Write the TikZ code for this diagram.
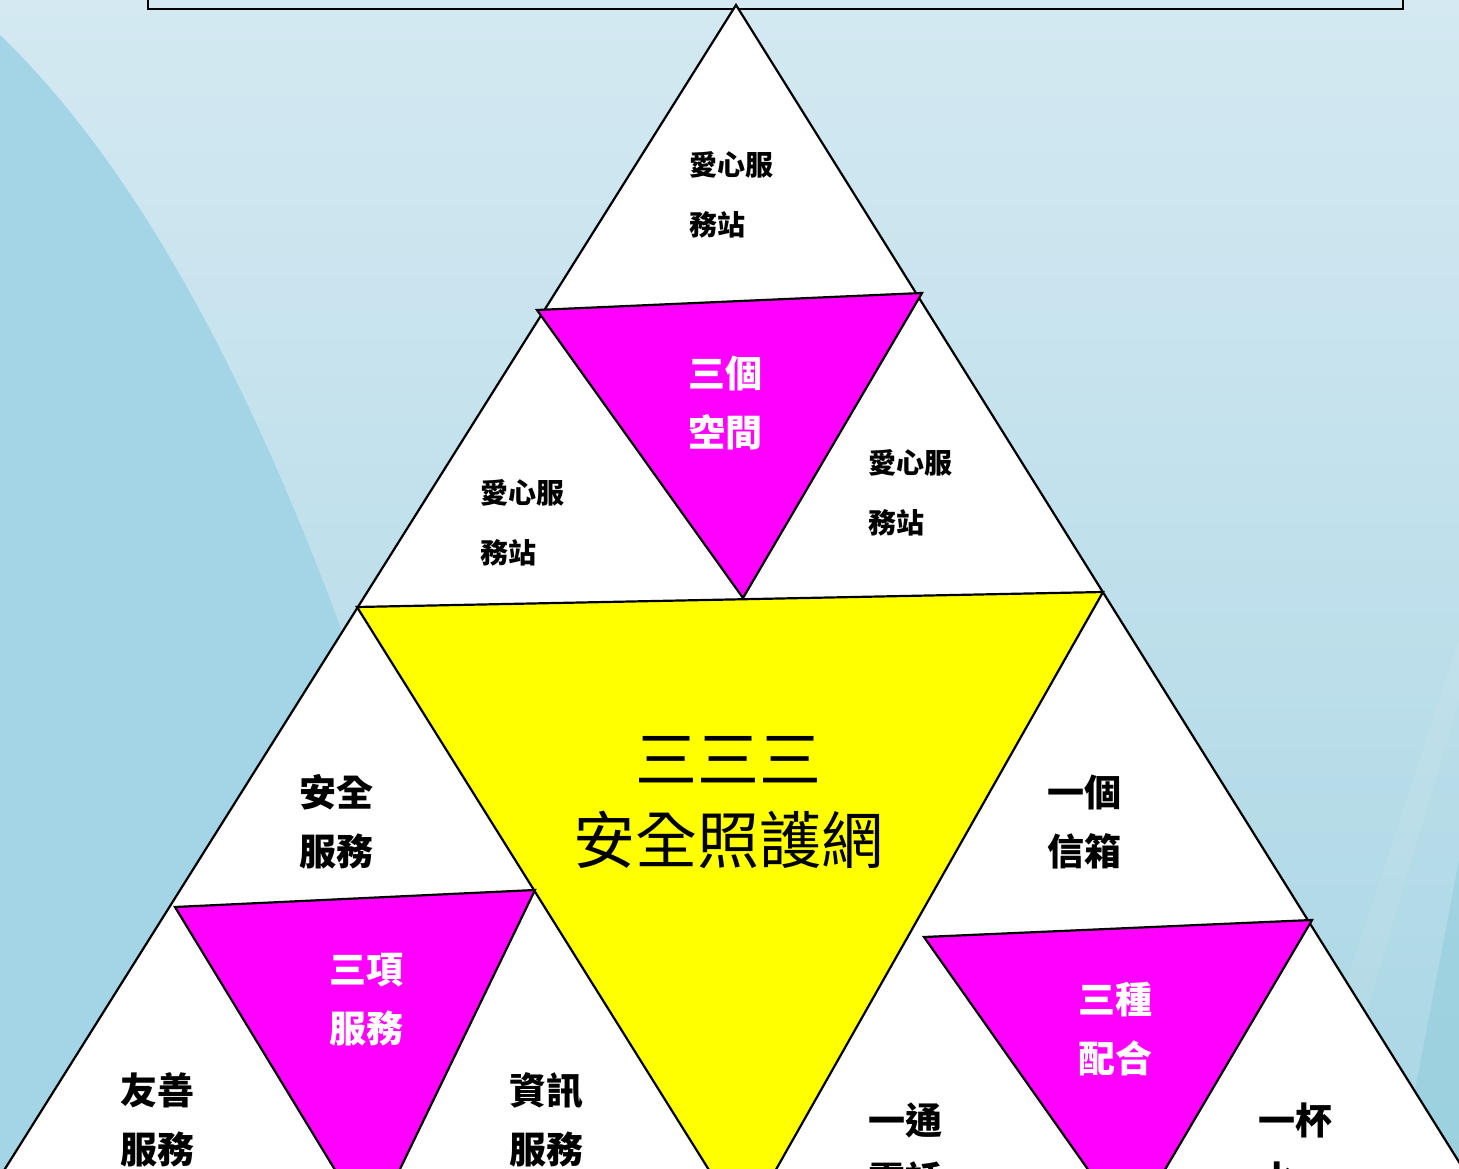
\documentclass[tikz,border=0pt]{standalone}
\usepackage{fontspec}
\newfontfamily\cjk{Noto Sans CJK TC}
\definecolor{bgtop}{HTML}{D4E9F2}
\definecolor{bgbot}{HTML}{A9D6E4}
\definecolor{swoosh}{HTML}{A4D5E6}
\definecolor{sharp}{HTML}{8FCCDC}
\definecolor{mag}{HTML}{FF00FF}
\definecolor{yel}{HTML}{FFFF00}
\tikzset{
tri/.style={draw=black, line width=2.2pt, line join=miter},
word/.style={align=left, inner sep=0pt, text=black,
	font=\cjk\bfseries\fontsize{37}{59}\selectfont},
small/.style={word, font=\cjk\bfseries\fontsize{28}{60}\selectfont},
inword/.style={word, text=white}
}

\begin{document}
\begin{tikzpicture}[x=1pt, y=-1pt]
	\useasboundingbox (0,0) rectangle (1459,1169);
	\clip (0,0) rectangle (1459,1169);
	\shade[top color=bgtop, bottom color=bgbot] (0,0) rectangle (1459,1169);
	\fill[swoosh] (0,35) .. controls (130,160) and (260,380) .. (380,740)
		-- (380,1169) -- (0,1169) -- cycle;
	\fill[white, opacity=0.08] (1459,640) -- (1459,700) -- (1320,1169) -- (1285,1169) -- cycle;
	\fill[sharp, opacity=0.5] (1459,860) -- (1459,1169) -- (1400,1169) -- cycle;
	\draw[line width=2pt] (148,-20) rectangle (1403,9);

	\coordinate (apex) at (736,5);
	\coordinate (baseL) at (-46,1250);
	\coordinate (baseR) at (1514,1250);
	\filldraw[tri, fill=white] (apex) -- (baseL) -- (baseR) -- cycle;

	\filldraw[tri, fill=yel] (357,607) -- (1103,592) -- (744,1226) -- cycle;
	\filldraw[tri, fill=mag] (537,310) -- (922,293) -- (743,598) -- cycle;
	\filldraw[tri, fill=mag] (175,907) -- (535,890) -- (371,1229) -- cycle;
	\filldraw[tri, fill=mag] (924,937) -- (1312,920) -- (1130,1229) -- cycle;

	\node[small] (topst) at (731,195) {愛心服\\務站};
	\node[small] (leftst) at (522,523) {愛心服\\務站};
	\node[small] (rightst) at (910,493) {愛心服\\務站};
	\node[inword] (space) at (725,403) {三個\\空間};
	\node[align=center, inner sep=0pt, font=\cjk\fontsize{62}{81}\selectfont]
		(net) at (728,803) {三三三\\安全照護網};
	\node[word] (safe) at (336,822) {安全\\服務};
	\node[inword] (three) at (366,1000) {三項\\服務};
	\node[word] (kind) at (157,1120) {友善\\服務};
	\node[word] (info) at (546,1120) {資訊\\服務};
	\node[word] (mail) at (1084,822) {一個\\信箱};
	\node[inword] (coop) at (1115,1029) {三種\\配合};
	\node[word] (call) at (905,1150) {一通\\電話};
	\node[word] (cup) at (1295,1150) {一杯\\水};
\end{tikzpicture}
\end{document}
